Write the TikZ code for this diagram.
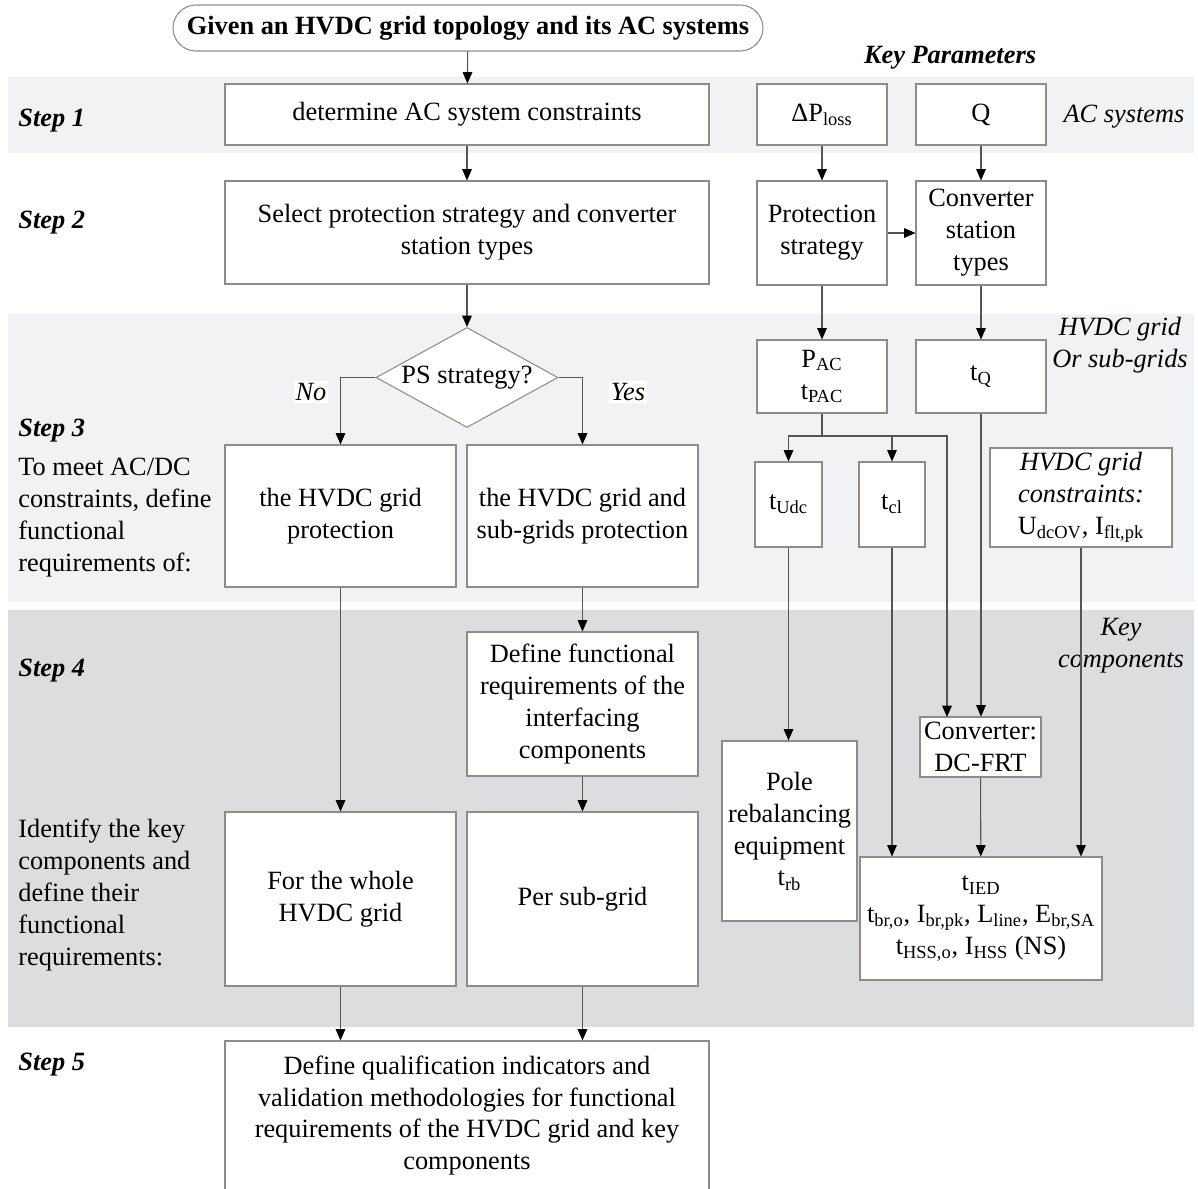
\documentclass[tikz,border=0pt]{standalone}
\usepackage{fontspec}
\setmainfont{Liberation Serif}
\usetikzlibrary{arrows.meta,shapes.geometric}

\definecolor{bandlight}{RGB}{241,242,244}
\definecolor{banddark}{RGB}{220,221,223}
\definecolor{boxline}{RGB}{140,140,140}
\definecolor{arrline}{RGB}{85,85,85}
\newcommand\bodyfont{\fontsize{15}{18.2}\selectfont}

\tikzset{
  box/.style 2 args={draw=boxline,fill=white,line width=0.6pt,minimum width=#1*0.02cm,
    minimum height=#2*0.02cm,inner sep=0pt,align=center,font=\bodyfont},
  decision/.style={diamond,draw=boxline,fill=white,line width=0.6pt,aspect=1.82,inner sep=0pt,
    minimum width=182*0.02cm,minimum height=100*0.02cm,font=\bodyfont},
  flow/.style={draw=arrline,line width=0.6pt,-{Triangle[length=6.5pt,width=5.5pt,color=black]}},
  link/.style={draw=arrline,line width=0.6pt},
  steplbl/.style={anchor=west,inner sep=0pt,font=\bodyfont\bfseries\itshape},
  side/.style={font=\bodyfont\itshape,align=center},
  lefttext/.style={anchor=west,inner sep=0pt,align=left,font=\bodyfont},
}

\begin{document}
\begin{tikzpicture}[x=0.02cm,y=-0.02cm]
  \useasboundingbox (0,0) rectangle (1198,1188);
  % background bands of the steps
  \fill[bandlight] (8,77) rectangle (1194,153);
  \fill[bandlight] (8,314) rectangle (1194,602);
  \fill[banddark] (8,610) rectangle (1194,1027);

  % step labels and side texts
  \node[steplbl] (s1) at (18,121) {Step 1};
  \node[steplbl] (s2) at (18,223) {Step 2};
  \node[steplbl] (s3) at (18,431) {Step 3};
  \node[steplbl] (s4) at (18,671) {Step 4};
  \node[steplbl] (s5) at (18,1065) {Step 5};
  \node[lefttext] (s3txt) at (18,518) {To meet AC/DC\\constraints, define\\functional\\requirements of:};
  \node[lefttext] (s4txt) at (18,895) {Identify the key\\components and\\define their\\functional\\requirements:};
  \node[font=\bodyfont\bfseries\itshape] (keypar) at (950,58) {Key Parameters};
  \node[side] (acsys) at (1124,117) {AC systems};
  \node[side] (gridlbl) at (1120,345) {HVDC grid\\Or sub-grids};
  \node[side] (complbl) at (1121,646) {Key\\components};

  % main flow
  \node[box={590}{46},rounded corners=0.46cm,font=\bodyfont\bfseries] (given) at (468,28)
    {Given an HVDC grid topology and its AC systems};
  \node[box={484}{61}] (acdet) at (467,114.5) {determine AC system constraints};
  \node[box={484}{103}] (select) at (467,232.5) {Select protection strategy and converter\\station types};
  \node[decision] (psq) at (467,377.5) {PS strategy?};
  \node[box={231}{142}] (gridprot) at (340.5,516) {the HVDC grid\\protection};
  \node[box={231}{142}] (subprot) at (582.5,516) {the HVDC grid and\\sub-grids protection};
  \node[box={231}{144}] (interf) at (582.5,704) {Define functional\\requirements of the\\interfacing\\components};
  \node[box={231}{174}] (whole) at (340.5,899) {For the whole\\HVDC grid};
  \node[box={231}{174}] (persub) at (582.5,899) {Per sub-grid};
  \node[box={484}{149}] (qualif) at (467,1115.5) {Define qualification indicators and\\validation methodologies for functional\\requirements of the HVDC grid and key\\components};

  % key parameters
  \node[box={130}{61}] (ploss) at (822,114.5) {ΔP\textsubscript{loss}};
  \node[box={130}{61}] (qac) at (981,114.5) {Q};
  \node[box={130}{104}] (protstr) at (822,233) {Protection\\strategy};
  \node[box={130}{104}] (convtype) at (981,233) {Converter\\station\\types};
  \node[box={130}{73}] (pac) at (822,376.5) {P\textsubscript{AC}\\t\textsubscript{PAC}};
  \node[box={130}{73}] (tq) at (981,376.5) {t\textsubscript{Q}};
  \node[box={67}{85}] (tudc) at (788.5,504.5) {t\textsubscript{Udc}};
  \node[box={66}{85}] (tcl) at (892,504.5) {t\textsubscript{cl}};
  \node[box={182}{99}] (gridcon) at (1081,497.5) {\textit{HVDC grid}\\\textit{constraints:}\\U\textsubscript{dcOV}, I\textsubscript{flt,pk}};
  \node[box={121}{60}] (dcfrt) at (980.5,747) {Converter:\\DC-FRT};
  \node[box={135}{180}] (pole) at (789.5,831) {Pole\\rebalancing\\equipment\\t\textsubscript{rb}};
  \node[box={242}{123}] (breaker) at (981,918.5) {t\textsubscript{IED}\\t\textsubscript{br,o}, I\textsubscript{br,pk}, L\textsubscript{line}, E\textsubscript{br,SA}\\t\textsubscript{HSS,o}, I\textsubscript{HSS} (NS)};

  % connectors
  \draw[flow] (given) -- (acdet);
  \draw[flow] (acdet) -- (select);
  \draw[flow] (select) -- (psq);
  \draw[flow] (psq.west) -| (gridprot.north);
  \draw[flow] (psq.east) -| (subprot.north);
  \node[font=\bodyfont\itshape,fill=white,inner sep=1pt] (nolbl) at (311,392) {No};
  \node[font=\bodyfont\itshape,fill=white,inner sep=1pt] (yeslbl) at (628,392) {Yes};
  \draw[flow] (subprot) -- (interf);
  \draw[flow] (interf) -- (persub);
  \draw[flow] (gridprot) -- (whole);
  \draw[flow] (whole.south) -- (whole.south |- qualif.north);
  \draw[flow] (persub.south) -- (persub.south |- qualif.north);

  \draw[flow] (ploss) -- (protstr);
  \draw[flow] (qac) -- (convtype);
  \draw[flow] (protstr) -- (convtype);
  \draw[flow] (protstr) -- (pac);
  \draw[flow] (convtype) -- (tq);
  \coordinate (split) at (822,436);
  \coordinate (frtin) at (947,717);
  \draw[link] (pac) -- (split);
  \draw[flow] (split) -| (tudc.north);
  \draw[flow] (split) -| (tcl.north);
  \draw[flow] (split) -| (frtin);
  \draw[flow] (tq.south) -- (tq.south |- dcfrt.north);
  \draw[flow] (tudc.south) -- (tudc.south |- pole.north);
  \draw[flow] (tcl.south) -- (tcl.south |- breaker.north);
  \draw[flow] (dcfrt) -- (breaker);
  \draw[flow] (gridcon.south) -- (gridcon.south |- breaker.north);
\end{tikzpicture}
\end{document}
